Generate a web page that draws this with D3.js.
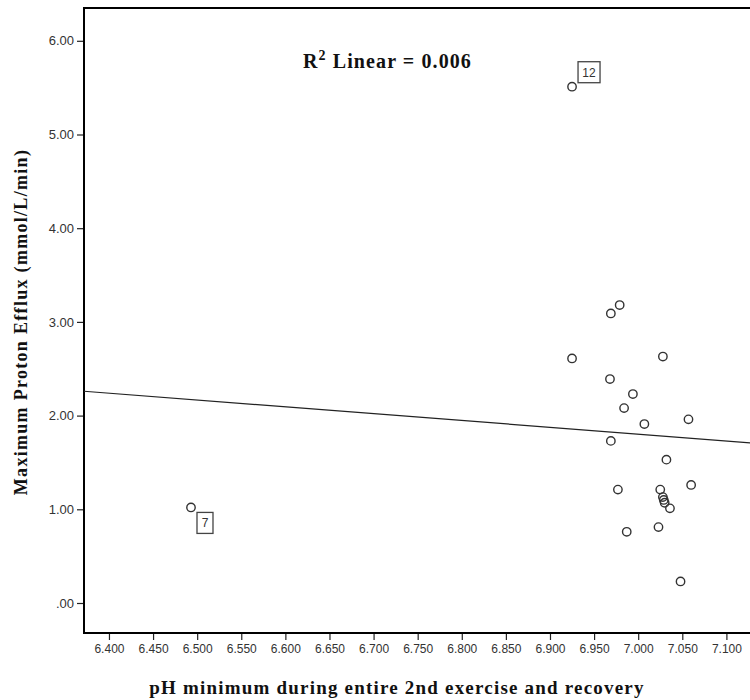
<!DOCTYPE html>
<html>
<head>
<meta charset="utf-8">
<script src="https://cdn.jsdelivr.net/npm/d3@7"></script>
<style>
  body { margin: 0; background: #fff; }
  svg { display: block; }
</style>
</head>
<body>
<svg id="chart" width="750" height="700"></svg>
<script>
// pH minimum (x) vs maximum proton efflux (y)
const phMin = [6.979, 6.969, 6.925, 7.028, 6.968, 6.994, 6.984, 7.007, 7.057, 6.969,
  7.032, 6.977, 7.025, 7.060, 7.028, 7.029, 7.030, 7.036, 6.987, 7.023, 7.048, 6.925, 6.493]
const efflux = [3.18, 3.09, 2.61, 2.63, 2.39, 2.23, 2.08, 1.91, 1.96, 1.73,
  1.53, 1.21, 1.21, 1.26, 1.13, 1.10, 1.07, 1.01, 0.76, 0.81, 0.23, 5.51, 1.02]
const caseIds = [null, null, null, null, null, null, null, null, null, null,
  null, null, null, null, null, null, null, null, null, null, null, "12", "7"]

const xTicks = [6.40, 6.45, 6.50, 6.55, 6.60, 6.65, 6.70, 6.75, 6.80, 6.85, 6.90, 6.95, 7.00, 7.05, 7.10]
const yTicks = [0, 1, 2, 3, 4, 5, 6]

// fit line (intercept, slope)
const fitIntercept = 6.905
const fitSlope = -0.729
const rSquared = "0.006"

let plotLeft = 84, plotTop = 8, plotRight = 762, plotBottom = 633

let x = d3.scaleLinear().domain([6.3717, 7.1]).range([plotLeft, 109 + 14 * 44.1])
let y = d3.scaleLinear().domain([0, 6]).range([603, 603 - 6 * 93.7])

const svg = d3.select("#chart")

const serif = "'Liberation Serif', 'Times New Roman', serif"
const sans = "Arial, 'Liberation Sans', sans-serif"

// axes
let xAxis = d3.axisBottom(x)
    .tickValues(xTicks)
    .tickSize(7)
    .tickPadding(4)
    .tickFormat(d3.format(".3f"))

let yAxis = d3.axisLeft(y)
    .tickValues(yTicks)
    .tickSize(7)
    .tickPadding(3)
    .tickFormat(d => d === 0 ? ".00" : d3.format(".2f")(d))

let gx = svg.append("g")
    .attr("transform", "translate(0," + plotBottom + ")")
    .call(xAxis)
let gy = svg.append("g")
    .attr("transform", "translate(" + plotLeft + ",0)")
    .call(yAxis)

for (const g of [gx, gy]) {
    g.select(".domain").remove()
    g.selectAll("line").attr("stroke", "#222").attr("stroke-width", 1.2)
    g.selectAll("text")
        .attr("font-family", sans)
        .attr("font-size", 12)
        .attr("fill", "#333")
}
gy.selectAll("text").attr("font-size", 13)

// frame
svg.append("rect")
    .attr("x", plotLeft)
    .attr("y", plotTop)
    .attr("width", plotRight - plotLeft)
    .attr("height", plotBottom - plotTop)
    .attr("fill", "none")
    .attr("stroke", "#000")
    .attr("stroke-width", 2)

// fit line
let xEnds = [x.invert(plotLeft), x.invert(plotRight)]
svg.append("line")
    .attr("x1", x(xEnds[0]))
    .attr("y1", y(fitIntercept + fitSlope * xEnds[0]))
    .attr("x2", x(xEnds[1]))
    .attr("y2", y(fitIntercept + fitSlope * xEnds[1]))
    .attr("stroke", "#222")
    .attr("stroke-width", 1.2)

// points
let points = phMin.map((v, i) => ({ x: v, y: efflux[i], id: caseIds[i] }))

svg.append("g")
    .selectAll("circle")
    .data(points)
    .join("circle")
    .attr("cx", d => x(d.x))
    .attr("cy", d => y(d.y))
    .attr("r", 4.2)
    .attr("fill", "none")
    .attr("stroke", "#333")
    .attr("stroke-width", 1.4)

// case labels
let labelled = points.filter(d => d.id)
let lab = svg.append("g")
    .selectAll("g")
    .data(labelled)
    .join("g")
    .attr("transform", d => {
        let dx = 6, dy = d.y > 3 ? -25 : 5
        return "translate(" + (x(d.x) + dx) + "," + (y(d.y) + dy) + ")"
    })

lab.append("rect")
    .attr("width", d => d.id.length > 1 ? 22 : 16)
    .attr("height", 21)
    .attr("fill", "#fff")
    .attr("stroke", "#444")
    .attr("stroke-width", 1.3)

lab.append("text")
    .attr("x", d => (d.id.length > 1 ? 22 : 16) / 2)
    .attr("y", 15)
    .attr("text-anchor", "middle")
    .attr("font-family", sans)
    .attr("font-size", 12)
    .attr("fill", "#333")
    .text(d => d.id)

// R squared annotation
let r2 = svg.append("text")
    .attr("x", 303)
    .attr("y", 68)
    .attr("font-family", serif)
    .attr("font-weight", "bold")
    .attr("font-size", 20)
    .attr("letter-spacing", 1.1)
    .attr("fill", "#111")
r2.append("tspan").text("R")
r2.append("tspan").attr("dy", -8).attr("font-size", 14).text("2")
r2.append("tspan").attr("dy", 8).text(" Linear = " + rSquared)

// axis titles
svg.append("text")
    .attr("x", 397)
    .attr("y", 694)
    .attr("text-anchor", "middle")
    .attr("font-family", serif)
    .attr("font-weight", "bold")
    .attr("font-size", 19)
    .attr("letter-spacing", 1.2)
    .attr("fill", "#111")
    .text("pH minimum during entire 2nd exercise and recovery")

svg.append("text")
    .attr("transform", "translate(27,322) rotate(-90)")
    .attr("text-anchor", "middle")
    .attr("font-family", serif)
    .attr("font-weight", "bold")
    .attr("font-size", 18)
    .attr("letter-spacing", 1.3)
    .attr("fill", "#111")
    .text("Maximum Proton Efflux  (mmol/L/min)")
</script>
</body>
</html>
